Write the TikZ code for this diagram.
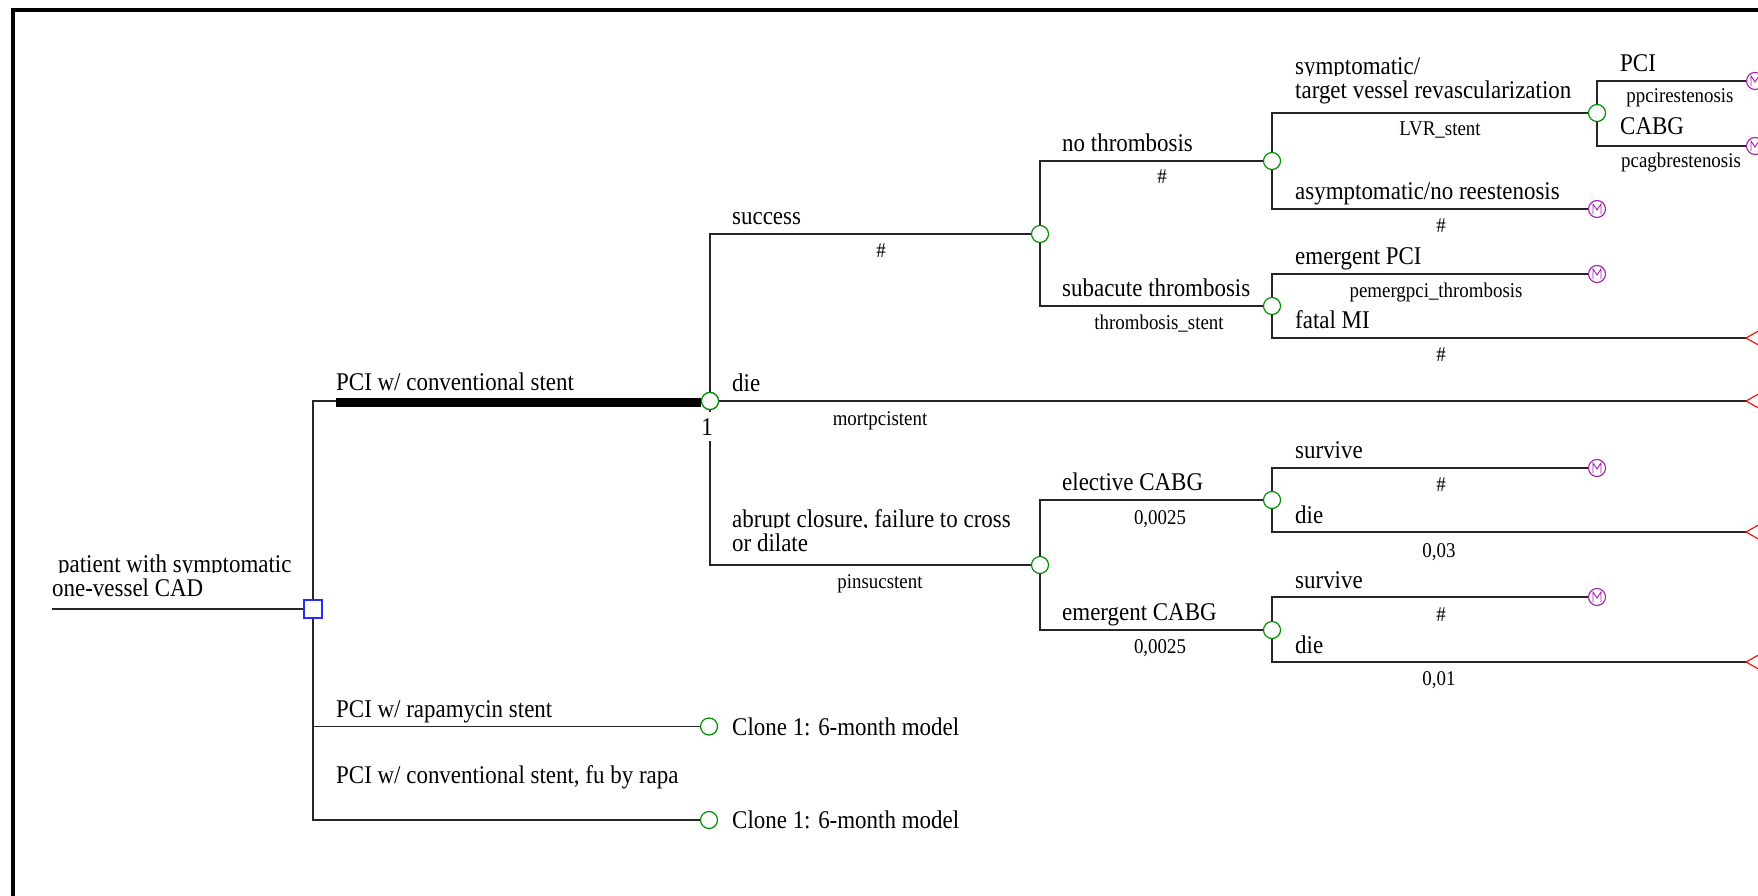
\documentclass[tikz,border=0pt]{standalone}
\usepackage{fontspec}
\setmainfont{Liberation Serif}[FakeStretch=0.9]
\definecolor{tgreen}{RGB}{0,140,0}
\definecolor{mpurple}{RGB}{160,30,170}
\definecolor{tblue}{RGB}{40,40,255}
\newcommand{\bigf}{\fontsize{25.5}{30}\selectfont}
\newcommand{\smf}{\fontsize{21}{25}\selectfont}
\tikzset{
  br/.style={draw=black!85, line width=1.25pt},
  thickbr/.style={draw=black, line width=8.5pt},
  chance/.style={circle, draw=tgreen, fill=white, line width=1.2pt, minimum size=17pt, inner sep=0pt},
  decis/.style={rectangle, draw=tblue, fill=white, line width=1.2pt, minimum size=18pt, inner sep=0pt},
  markov/.style={circle, draw=mpurple, fill=white, line width=1.1pt, minimum size=17pt, inner sep=0pt,
    path picture={\draw[mpurple, line width=0.9pt] ([xshift=-4pt,yshift=-5pt]path picture bounding box.center) -- ++(0,10pt) -- ++(4pt,-6pt) -- ++(4pt,6pt) -- ++(0,-10pt);}},
  lab/.style={anchor=base west, inner sep=0pt, font=\bigf},
  prob/.style={anchor=base, inner sep=0pt, font=\smf},
  termtri/.style={draw=red, line width=1.1pt},
  frame/.style={draw=black, line width=4pt},
}
\begin{document}
\begin{tikzpicture}[x=1pt, y=-1pt]
\useasboundingbox (0,0) rectangle (1758,896);
\clip (0,0) rectangle (1758,896);
\draw[frame] (13,910) -- (13,10) -- (1770,10);

% ---- nodes ----
\coordinate (start) at (52,609);
\node[decis] (root) at (313,609) {};
\node[chance] (n1) at (710,401) {};
\node[chance] (rapa) at (709,726.5) {};
\node[chance] (fu) at (709,820) {};
\coordinate (thk) at (336,402.5);

\node[chance] (suc) at (1040,234) {};
\node[chance] (abr) at (1040,565) {};
\coordinate (tdie) at (1746,401);

\node[chance] (noth) at (1272,161) {};
\node[chance] (subth) at (1272,306) {};
\node[chance] (elec) at (1272,500) {};
\node[chance] (emer) at (1272,630) {};

\node[chance] (sympt) at (1597,113) {};
\node[markov] (asym) at (1597,209) {};
\node[markov] (epci) at (1597,274) {};
\coordinate (tfmi) at (1746,338);
\node[markov] (surv1) at (1597,468) {};
\coordinate (tdie1) at (1746,532);
\node[markov] (surv2) at (1597,597) {};
\coordinate (tdie2) at (1746,662);

\node[markov] (mpci) at (1755,81) {};
\node[markov] (mcabg) at (1755,146) {};

% ---- connectors ----
\draw[br] (start) -- (root);
\draw[br] (root) |- (n1);
\draw[thickbr] (thk) -- (thk -| n1.west);
\draw[br] (root) |- (rapa);
\draw[br] (root) |- (fu);

\draw[br] (n1) |- (suc);
\draw[br] (n1) -- (tdie);
\draw[br] (n1) |- (abr);

\draw[br] (suc) |- (noth);
\draw[br] (suc) |- (subth);
\draw[br] (abr) |- (elec);
\draw[br] (abr) |- (emer);

\draw[br] (noth) |- (sympt);
\draw[br] (noth) |- (asym);
\draw[br] (subth) |- (epci);
\draw[br] (subth) |- (tfmi);
\draw[br] (elec) |- (surv1);
\draw[br] (elec) |- (tdie1);
\draw[br] (emer) |- (surv2);
\draw[br] (emer) |- (tdie2);

\draw[br] (sympt) |- (mpci);
\draw[br] (sympt) |- (mcabg);

% redraw node 1 on top of the thick line
\node[chance] (n1top) at (n1) {};

% terminals
\draw[termtri] (tdie) -- ++(16,-9) -- ++(0,18) -- cycle;
\draw[termtri] (tfmi) -- ++(16,-9) -- ++(0,18) -- cycle;
\draw[termtri] (tdie1) -- ++(16,-9) -- ++(0,18) -- cycle;
\draw[termtri] (tdie2) -- ++(16,-9) -- ++(0,18) -- cycle;

\node[fill=white, inner sep=6pt, font=\bigf, anchor=base] (one) at (707,435) {1};

% ---- labels ----
\begin{scope}
\clip (40,572.5) rectangle (420,540);
\node[lab] (lroot1) at (58,572) {patient with symptomatic};
\end{scope}
\node[lab] (lroot2) at (52,596) {one-vessel CAD};

\node[lab] (lpci) at (336,390) {PCI w/ conventional stent};
\node[lab] (lrapa) at (336,717) {PCI w/ rapamycin stent};
\node[lab] (lfu) at (336,783) {PCI w/ conventional stent, fu by rapa};
\node[lab] (lclone1) at (732,735) {Clone 1: 6-month model};
\node[lab] (lclone2) at (732,828.5) {Clone 1: 6-month model};

\node[lab] (lsuc) at (732,224) {success};
\node[lab] (ldie) at (732,391) {die};
\begin{scope}
\clip (720,527.5) rectangle (1100,495);
\node[lab] (labr1) at (732,527) {abrupt closure, failure to cross};
\end{scope}
\node[lab] (labr2) at (732,551) {or dilate};

\node[lab] (lnoth) at (1062,151.5) {no thrombosis};
\node[lab] (lsubth) at (1062,296.5) {subacute thrombosis};
\node[lab] (lelec) at (1062,490.5) {elective CABG};
\node[lab] (lemer) at (1062,620.5) {emergent CABG};

\begin{scope}
\clip (1285,75.5) rectangle (1600,45);
\node[lab] (lsym1) at (1295,75) {symptomatic/};
\end{scope}
\node[lab] (lsym2) at (1295,99) {target vessel revascularization};
\node[lab] (lasym) at (1295,199.5) {asymptomatic/no reestenosis};
\node[lab] (lepci) at (1295,264.5) {emergent PCI};
\node[lab] (lfmi) at (1295,328.5) {fatal MI};
\node[lab] (lsurv1) at (1295,458) {survive};
\node[lab] (ldie1) at (1295,523) {die};
\node[lab] (lsurv2) at (1295,588) {survive};
\node[lab] (ldie2) at (1295,653) {die};

\node[lab] (lmpci) at (1620,71.5) {PCI};
\node[lab] (lmcabg) at (1620,135) {CABG};

% ---- probabilities ----
\node[prob] (psuc) at (881,257) {\#};
\node[prob] (pdie) at (880,425) {mortpcistent};
\node[prob] (pabr) at (880,588) {pinsucstent};
\node[prob] (pnoth) at (1162,184) {\#};
\node[prob] (psubth) at (1159,329) {thrombosis\_stent};
\node[prob] (pelec) at (1160,524) {0,0025};
\node[prob] (pemer) at (1160,653) {0,0025};
\node[prob] (psym) at (1440,136) {LVR\_stent};
\node[prob] (pasym) at (1441,232) {\#};
\node[prob] (pepci) at (1436,297) {pemergpci\_thrombosis};
\node[prob] (pfmi) at (1441,361) {\#};
\node[prob] (psurv1) at (1441,491) {\#};
\node[prob] (pdie1) at (1439,557) {0,03};
\node[prob] (psurv2) at (1441,621) {\#};
\node[prob] (pdie2) at (1439,685) {0,01};
\node[prob] (pmpci) at (1680,103) {ppcirestenosis};
\node[prob] (pmcabg) at (1681,168) {pcagbrestenosis};
\end{tikzpicture}
\end{document}
